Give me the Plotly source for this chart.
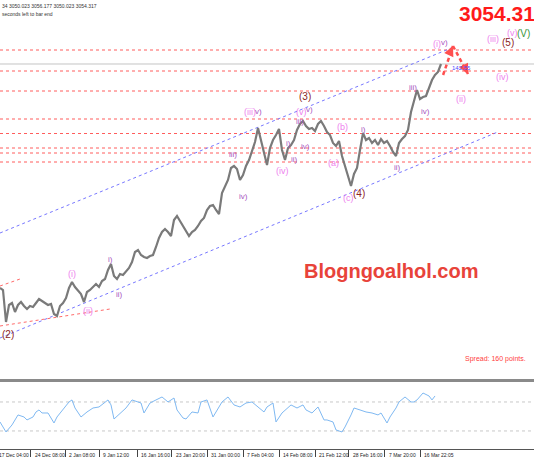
import plotly.graph_objects as go

W, H = 534, 462
PLOT_H = 449  # height of the plotting area (bottom margin holds the time labels)
X_RANGE = [0, 178]

# ---------------- data ----------------
# closing prices, one per bar (H4 bars, oldest first)
close = [
    2651.1, 2647.5, 2589.9, 2620.5, 2624.1, 2607.9, 2620.5, 2625.9, 2618.7, 2613.3,
    2618.7, 2616.9, 2624.1, 2631.3, 2627.7, 2624.1, 2620.5, 2622.3, 2604.3, 2600.7,
    2618.7, 2624.1, 2633.1, 2651.1, 2661.9, 2652.9, 2647.5, 2640.3, 2625.9, 2643.9,
    2647.5, 2652.9, 2658.3, 2652.9, 2663.7, 2667.3, 2683.5, 2694.3, 2672.7, 2667.3,
    2676.3, 2674.5, 2681.7, 2687.1, 2697.9, 2715.9, 2719.5, 2710.5, 2706.9, 2705.1,
    2708.7, 2710.5, 2724.9, 2741.1, 2751.9, 2757.3, 2751.9, 2744.7, 2773.5, 2780.7,
    2771.7, 2762.7, 2755.5, 2744.7, 2751.9, 2755.5, 2762.7, 2771.7, 2777.1, 2791.5,
    2798.7, 2800.5, 2791.5, 2784.3, 2822.1, 2834.7, 2845.5, 2867.1, 2870.7, 2865.3,
    2845.5, 2854.5, 2870.7, 2881.5, 2895.9, 2913.9, 2939.1, 2917.5, 2897.7, 2872.5,
    2903.1, 2917.5, 2926.5, 2937.3, 2899.5, 2881.5, 2903.1, 2908.5, 2917.5, 2935.5,
    2946.3, 2951.7, 2942.7, 2937.3, 2939.1, 2933.7, 2946.3, 2951.7, 2942.7, 2931.9,
    2926.5, 2912.1, 2906.7, 2915.7, 2888.7, 2870.7, 2854.5, 2834.7, 2856.3, 2867.1,
    2899.5, 2930.1, 2917.5, 2921.1, 2912.1, 2917.5, 2908.5, 2919.3, 2912.1, 2915.7,
    2906.7, 2895.9, 2888.7, 2912.1, 2919.3, 2924.7, 2935.5, 2967.9, 2987.7, 3007.5,
    2991.3, 2994.9, 2996.7, 3011.1, 3025.5, 3034.5, 3039.9, 3054.317,
]
bars = list(range(len(close)))

# oscillator (sub-window)
osc_bar = [0, 2, 4, 6, 8, 9, 11, 12, 13, 14, 16, 18, 19, 21, 23, 24, 25, 27, 29, 31,
           33, 36, 37, 38, 40, 42, 44, 47, 48, 50, 52, 54, 56, 58, 59, 61, 62, 64, 66, 67,
           69, 71, 73, 74, 76, 78, 80, 82, 84, 86, 88, 89, 91, 92, 94, 97, 99, 101, 102, 104,
           106, 108, 109, 111, 112, 114, 115, 117, 118, 120, 122, 124, 126, 127, 129, 130, 132, 133, 135, 137,
           138, 139, 141, 143, 144, 145]
osc_val = [42.4, 28.6, 38.3, 52.1, 49.3, 45.2, 49.3, 56.2, 59.0, 54.8, 54.8, 41.0, 49.3, 59.0, 70.0, 72.8, 61.7, 49.3, 56.2, 61.7,
           63.1, 72.8, 65.9, 46.5, 54.8, 61.7, 72.8, 68.6, 54.8, 68.6, 72.8, 76.9, 70.0, 75.5, 59.0, 47.9, 46.5, 56.2, 54.8, 70.0,
           72.8, 49.3, 63.1, 70.0, 76.9, 65.9, 63.1, 68.6, 70.0, 63.1, 56.2, 63.1, 68.6, 42.4, 54.8, 65.9, 61.7, 65.9, 59.0, 54.8,
           63.1, 45.2, 45.2, 42.4, 31.4, 28.6, 35.5, 52.1, 61.7, 59.0, 56.2, 54.8, 52.1, 54.8, 41.0, 49.3, 61.7, 70.0, 76.9, 70.0,
           70.0, 72.8, 82.4, 78.3, 72.8, 78.3]
osc_levels = [70, 30]

# horizontal price levels (red dotted) and the bid line
levels = [3079.5, 3041.7, 3005.7, 2955.3, 2929.2, 2903.1, 2894.1, 2877.9]
bid = 3054.317

# trend channel (blue dotted): [bar_start, price_start, bar_end, price_end]
channel_upper = [0, 2750.1, 151.7, 3085.9]
channel_lower = [0, 2561.1, 165.7, 2931.4]
# short red dotted trend lines
red_line_a = [0, 2654.7, 6.7, 2667.3]
red_line_b = [0, 2582.7, 36.7, 2613.3]

# projected path (red dashed arrows)
proj_bar = [147.7, 151.0, 156.0]
proj_price = [3034.5, 3086.7, 3036.3]

# wave labels: text, bar, price, degree
wave_text = ["(2)", "(i)", "(ii)", "i)", "ii)", "iii)", "iv)", "(iii)", "v)", "(iv)",
             "i)", "ii)", "iii)", "iv)", "(v)", "v)", "(3)", "(b)", "(a)", "(c)",
             "(4)", "i)", "ii)", "iii)", "iv)", "(ii)", "(i)", "v)", "(iii)", "(5)",
             "(iv)", "(v)", "(V)"]
wave_bar = [2.83, 24.0, 29.3, 36.8, 39.8, 77.7, 81.0, 83.2, 86.2, 94.3,
            96.2, 98.3, 100.0, 101.7, 100.5, 103.0, 101.8, 114.0, 111.2, 116.0,
            119.7, 121.2, 132.5, 137.7, 141.7, 153.5, 145.8, 148.2, 164.3, 169.3,
            167.5, 170.8, 174.5]
wave_price = [2568.3, 2676.3, 2609.7, 2703.3, 2640.3, 2892.3, 2816.7, 2967.9, 2969.7, 2861.7,
              2912.1, 2883.3, 2951.7, 2906.7, 2967.9, 2973.3, 2996.7, 2940.9, 2876.1, 2813.1,
              2822.1, 2937.3, 2868.9, 3012.9, 2969.7, 2991.3, 3090.3, 3093.9, 3099.3, 3093.9,
              3030.9, 3110.1, 3110.1]
wave_degree = ["P", "I", "I", "M", "M", "M", "M", "I", "M", "I",
               "M", "M", "M", "M", "I", "M", "P", "I", "I", "I",
               "P", "M", "M", "M", "M", "I", "I", "M", "I", "P",
               "I", "I", "C"]

# time axis
tick_bar = [-1.7, 10.3, 21.7, 33.0, 45.7, 57.3, 69.0, 81.0, 93.0, 105.0, 116.3, 128.3, 140.0]
tick_text = ["17 Dec 04:00", "24 Dec 08:00", "2 Jan 08:00", "9 Jan 12:00", "16 Jan 16:00",
             "23 Jan 20:00", "31 Jan 00:00", "7 Feb 04:00", "14 Feb 08:00", "21 Feb 12:00",
             "28 Feb 16:00", "7 Mar 20:00", "16 Mar 22:05"]

ohlc_text = "34 3050.023 3056.177 3050.023 3054.317"
timer_text = "seconds left to bar end"
spread_text = "Spread: 160 points."
price_big = "3054.317"
level_tag = "142.55"
watermark = "Blogngoalhol.com"

# ---------------- styles ----------------
FONT = "Liberation Sans, Arial, sans-serif"
degree_style = {
    "P": dict(color="#8b2525", size=10),
    "I": dict(color="#ee82ee", size=9),
    "M": dict(color="#a855c0", size=8),
    "C": dict(color="#3a963a", size=10),
}


def py(ypix):
    return (PLOT_H - ypix) / PLOT_H


def px(xpix):
    return xpix / W


def bar_to_paper(b):
    return (b - X_RANGE[0]) / (X_RANGE[1] - X_RANGE[0])


fig = go.Figure()

# price
fig.add_trace(go.Scatter(x=bars, y=close, mode="lines",
                         line=dict(color="#7a7a7a", width=2.2),
                         hoverinfo="skip", xaxis="x", yaxis="y"))
# projection arrows (dashed shafts)
for k in range(len(proj_bar) - 1):
    fig.add_trace(go.Scatter(x=proj_bar[k:k + 2], y=proj_price[k:k + 2], mode="lines",
                             line=dict(color="#ff4f4f", width=2.5, dash="4px,3px"),
                             hoverinfo="skip", xaxis="x", yaxis="y"))
# oscillator
fig.add_trace(go.Scatter(x=osc_bar, y=osc_val, mode="lines",
                         line=dict(color="#7fb9f2", width=1),
                         hoverinfo="skip", xaxis="x", yaxis="y2"))

shapes = []
for lv in levels:
    shapes.append(dict(type="line", xref="paper", yref="y", x0=0, x1=1, y0=lv, y1=lv,
                       line=dict(color="#ff5c5c", width=1, dash="dot"), layer="below"))
shapes.append(dict(type="line", xref="paper", yref="y", x0=0, x1=1, y0=bid, y1=bid,
                   line=dict(color="#c4c4c4", width=1), layer="below"))
for ln, col in [(channel_upper, "#7777ff"), (channel_lower, "#7777ff"),
                (red_line_a, "#ff6a6a"), (red_line_b, "#ff6a6a")]:
    shapes.append(dict(type="line", xref="x", yref="y", x0=ln[0], y0=ln[1], x1=ln[2], y1=ln[3],
                       line=dict(color=col, width=1, dash="dot"), layer="below"))
for lv in osc_levels:
    shapes.append(dict(type="line", xref="paper", yref="y2", x0=0, x1=1, y0=lv, y1=lv,
                       line=dict(color="#c8c8c8", width=1, dash="dot"), layer="below"))
# window separator
shapes.append(dict(type="line", xref="paper", yref="paper", x0=0, x1=1,
                   y0=py(380.5), y1=py(380.5), line=dict(color="#8a8a8a", width=3)))

ann = []
for t, b, p, d in zip(wave_text, wave_bar, wave_price, wave_degree):
    st = degree_style[d]
    ann.append(dict(x=b, y=p, xref="x", yref="y", text=t, showarrow=False,
                    font=dict(family=FONT, size=st["size"], color=st["color"]),
                    xanchor="center", yanchor="middle"))

# arrow heads of the projection
ann.append(dict(x=proj_bar[1], y=proj_price[1], ax=proj_bar[1] - 1.2, ay=proj_price[1] - 14,
                xref="x", yref="y", axref="x", ayref="y", text="", showarrow=True,
                arrowhead=2, arrowsize=0.8, arrowwidth=2.5, arrowcolor="#ff4f4f"))
ann.append(dict(x=proj_bar[2], y=proj_price[2], ax=proj_bar[2] - 1.3, ay=proj_price[2] + 14,
                xref="x", yref="y", axref="x", ayref="y", text="", showarrow=True,
                arrowhead=2, arrowsize=0.8, arrowwidth=2.5, arrowcolor="#ff4f4f"))

# time labels (left-aligned just right of each tick, MT4 style)
for tb, tt in zip(tick_bar, tick_text):
    ann.append(dict(x=bar_to_paper(tb) + px(2), y=py(454.5), xref="paper", yref="paper",
                    text=tt, showarrow=False, xanchor="left", yanchor="middle",
                    font=dict(family=FONT, size=5, color="#222222")))

ann += [
    dict(x=px(0), y=py(5.5), xref="paper", yref="paper", text=ohlc_text, showarrow=False,
         xanchor="left", yanchor="middle", font=dict(family=FONT, size=5, color="#333333")),
    dict(x=px(0), y=py(14), xref="paper", yref="paper", text=timer_text, showarrow=False,
         xanchor="left", yanchor="middle", font=dict(family=FONT, size=5, color="#333333")),
    dict(x=px(528), y=py(359), xref="paper", yref="paper", text=spread_text, showarrow=False,
         xanchor="right", yanchor="middle", font=dict(family=FONT, size=7, color="#ff4040")),
    dict(x=px(457), y=py(13), xref="paper", yref="paper", text="<b>" + price_big + "</b>",
         showarrow=False, xanchor="left", yanchor="middle",
         font=dict(family=FONT, size=21, color="#ff1a1a")),
    dict(x=px(461), y=py(68.5), xref="paper", yref="paper", text=level_tag, showarrow=False,
         xanchor="center", yanchor="middle", font=dict(family=FONT, size=6, color="#4d4dff")),
    dict(x=px(391), y=py(271), xref="paper", yref="paper", text="<b>" + watermark + "</b>",
         showarrow=False, xanchor="center", yanchor="middle",
         font=dict(family=FONT, size=20, color="#e8433a")),
]

fig.update_layout(
    width=W, height=H,
    margin=dict(l=0, r=0, t=0, b=H - PLOT_H, pad=0),
    paper_bgcolor="white", plot_bgcolor="white",
    showlegend=False,
    xaxis=dict(domain=[0, 1], range=X_RANGE, anchor="y2", showgrid=False, zeroline=False,
               tickmode="array", tickvals=tick_bar, showticklabels=False,
               ticks="outside", ticklen=7, tickcolor="#444444", tickwidth=1,
               showline=True, linecolor="#555555", linewidth=1),
    yaxis=dict(domain=[py(380), 1], range=[2485.5, 3169.5], anchor="x", visible=False),
    yaxis2=dict(domain=[0, py(383)], range=[5.1, 96.2], anchor="x", visible=False),
    shapes=shapes,
    annotations=ann,
)

fig.write_html(
    "out.html",
    config={"displayModeBar": False},
    post_script="document.body.style.margin='0';document.body.style.padding='0';"
                "document.body.style.overflow='hidden';",
)
